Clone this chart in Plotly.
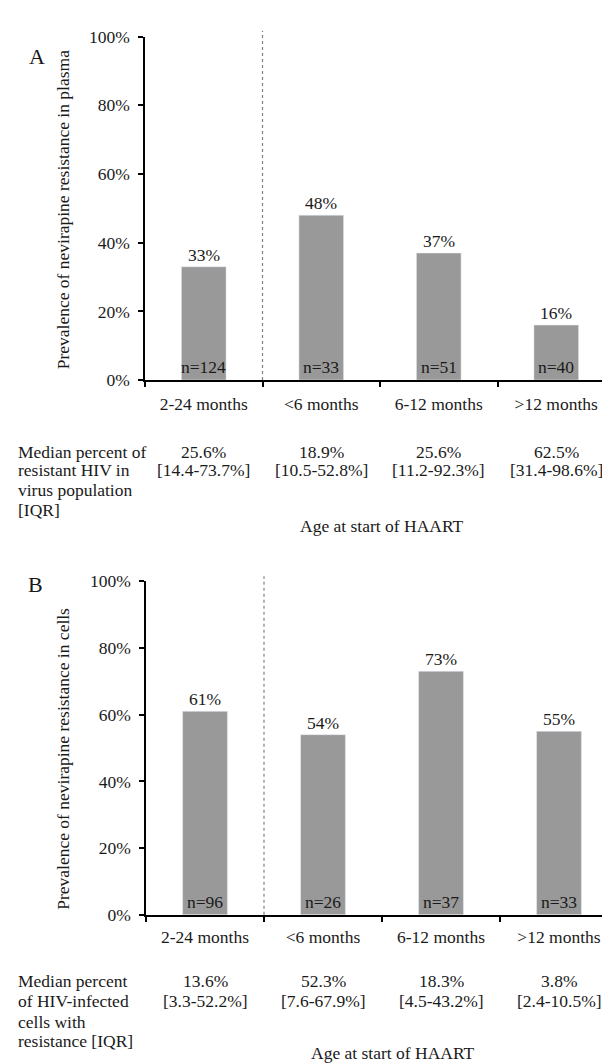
import plotly.graph_objects as go

# ---------------- data ----------------
categories = ["2-24 months", "<6 months", "6-12 months", ">12 months"]

prev_plasma = [33, 48, 37, 16]
n_plasma = [124, 33, 51, 40]
median_plasma = ["25.6%", "18.9%", "25.6%", "62.5%"]
iqr_plasma = ["[14.4-73.7%]", "[10.5-52.8%]", "[11.2-92.3%]", "[31.4-98.6%]"]

prev_cells = [61, 54, 73, 55]
n_cells = [96, 26, 37, 33]
median_cells = ["13.6%", "52.3%", "18.3%", "3.8%"]
iqr_cells = ["[3.3-52.2%]", "[7.6-67.9%]", "[4.5-43.2%]", "[2.4-10.5%]"]

y_ticks = [0, 20, 40, 60, 80, 100]
y_ticktext = ["0%", "20%", "40%", "60%", "80%", "100%"]

label_plasma = ["Median percent of", "resistant HIV in", "virus population", "[IQR]"]
label_cells = ["Median percent", "of HIV-infected", "cells with", "resistance [IQR]"]
title_plasma = "Prevalence of nevirapine resistance in plasma"
title_cells = "Prevalence of nevirapine resistance in cells"
x_title = "Age at start of HAART"

# ---------------- layout helpers ----------------
W, H = 610, 1064
FONT = "Liberation Serif"
FS = 17.5
TXT = "#1a1a1a"
BAR = "#999999"


def px(x):
    return x / W


def py(y):
    return 1 - y / H


def f(size=FS):
    return dict(family=FONT, size=size, color=TXT)


fig = go.Figure()

fig.add_trace(go.Bar(x=categories, y=prev_plasma, marker_color=BAR, width=0.38,
                     xaxis="x", yaxis="y", showlegend=False, hoverinfo="skip"))
fig.add_trace(go.Bar(x=categories, y=prev_cells, marker_color=BAR, width=0.38,
                     xaxis="x2", yaxis="y2", showlegend=False, hoverinfo="skip"))

axis_common = dict(showline=True, linecolor="black", linewidth=1.5, ticks="outside",
                   ticklen=5, tickwidth=1.5, tickcolor="black", showgrid=False,
                   zeroline=False, tickfont=f())

fig.update_layout(
    width=W, height=H, margin=dict(l=0, r=0, t=0, b=0),
    paper_bgcolor="white", plot_bgcolor="white",
    font=f(),
    xaxis=dict(domain=[px(137), px(607)], type="category", range=[-0.5, 3.5],
               tickson="boundaries", anchor="y", ticklabelstandoff=7, **axis_common),
    yaxis=dict(domain=[py(369), py(19)], range=[0, 100], tickvals=y_ticks,
               ticktext=y_ticktext, anchor="x", ticklabelstandoff=5, **axis_common),
    xaxis2=dict(domain=[px(138), 1.0], type="category", range=[-0.5, 3.5],
                tickson="boundaries", anchor="y2", ticklabelstandoff=5, **axis_common),
    yaxis2=dict(domain=[py(914), py(574)], range=[0, 100], tickvals=y_ticks,
                ticktext=y_ticktext, anchor="x2", ticklabelstandoff=5, **axis_common),
)

# dotted separator lines
fig.add_shape(type="line", xref="x", x0=0.5, x1=0.5, yref="paper",
              y0=py(369), y1=py(13), line=dict(color="#808080", width=1.2, dash="dot"))
fig.add_shape(type="line", xref="x2", x0=0.5, x1=0.5, yref="paper",
              y0=py(914), y1=py(569), line=dict(color="#808080", width=1.2, dash="dot"))

ann = []
for xr, yr, vals, ns in [("x", "y", prev_plasma, n_plasma), ("x2", "y2", prev_cells, n_cells)]:
    for c, v, n in zip(categories, vals, ns):
        ann.append(dict(xref=xr, yref=yr, x=c, y=v, text=f"{v}%", showarrow=False,
                        yanchor="bottom", yshift=0, font=f()))
        ann.append(dict(xref=xr, yref=yr, x=c, y=0, text=f"n={n}", showarrow=False,
                        yanchor="bottom", yshift=1, font=f()))

# median rows under axes
for xr, meds, iqrs, rows in [("x", median_plasma, iqr_plasma, (442, 461)),
                             ("x2", median_cells, iqr_cells, (981, 1002))]:
    for c, m, q in zip(categories, meds, iqrs):
        for txt, yy in zip((m, q), rows):
            ann.append(dict(xref=xr, yref="paper", x=c, y=py(yy), text=txt,
                            showarrow=False, yanchor="middle", font=f()))

# row labels
for lines, rows in [(label_plasma, (442, 461, 481, 501)),
                    (label_cells, (981, 1002, 1023, 1043))]:
    for txt, yy in zip(lines, rows):
        ann.append(dict(xref="paper", yref="paper", x=px(8), y=py(yy), text=txt,
                        showarrow=False, xanchor="left", yanchor="middle", font=f()))

# x titles
ann.append(dict(xref="paper", yref="paper", x=px(374), y=py(518), text=x_title,
                showarrow=False, yanchor="middle", font=f()))
ann.append(dict(xref="paper", yref="paper", x=px(385), y=py(1055), text=x_title,
                showarrow=False, yanchor="middle", font=f()))

# y titles
ann.append(dict(xref="paper", yref="paper", x=px(55), y=py(196), text=title_plasma,
                showarrow=False, textangle=-90, xanchor="center", yanchor="middle", font=f()))
ann.append(dict(xref="paper", yref="paper", x=px(55), y=py(755), text=title_cells,
                showarrow=False, textangle=-90, xanchor="center", yanchor="middle", font=f()))

# panel letters
ann.append(dict(xref="paper", yref="paper", x=px(19), y=py(24), text="A",
                showarrow=False, font=f(22)))
ann.append(dict(xref="paper", yref="paper", x=px(18), y=py(577), text="B",
                showarrow=False, font=f(22)))

fig.update_layout(annotations=ann)
fig.write_html("out.html")
